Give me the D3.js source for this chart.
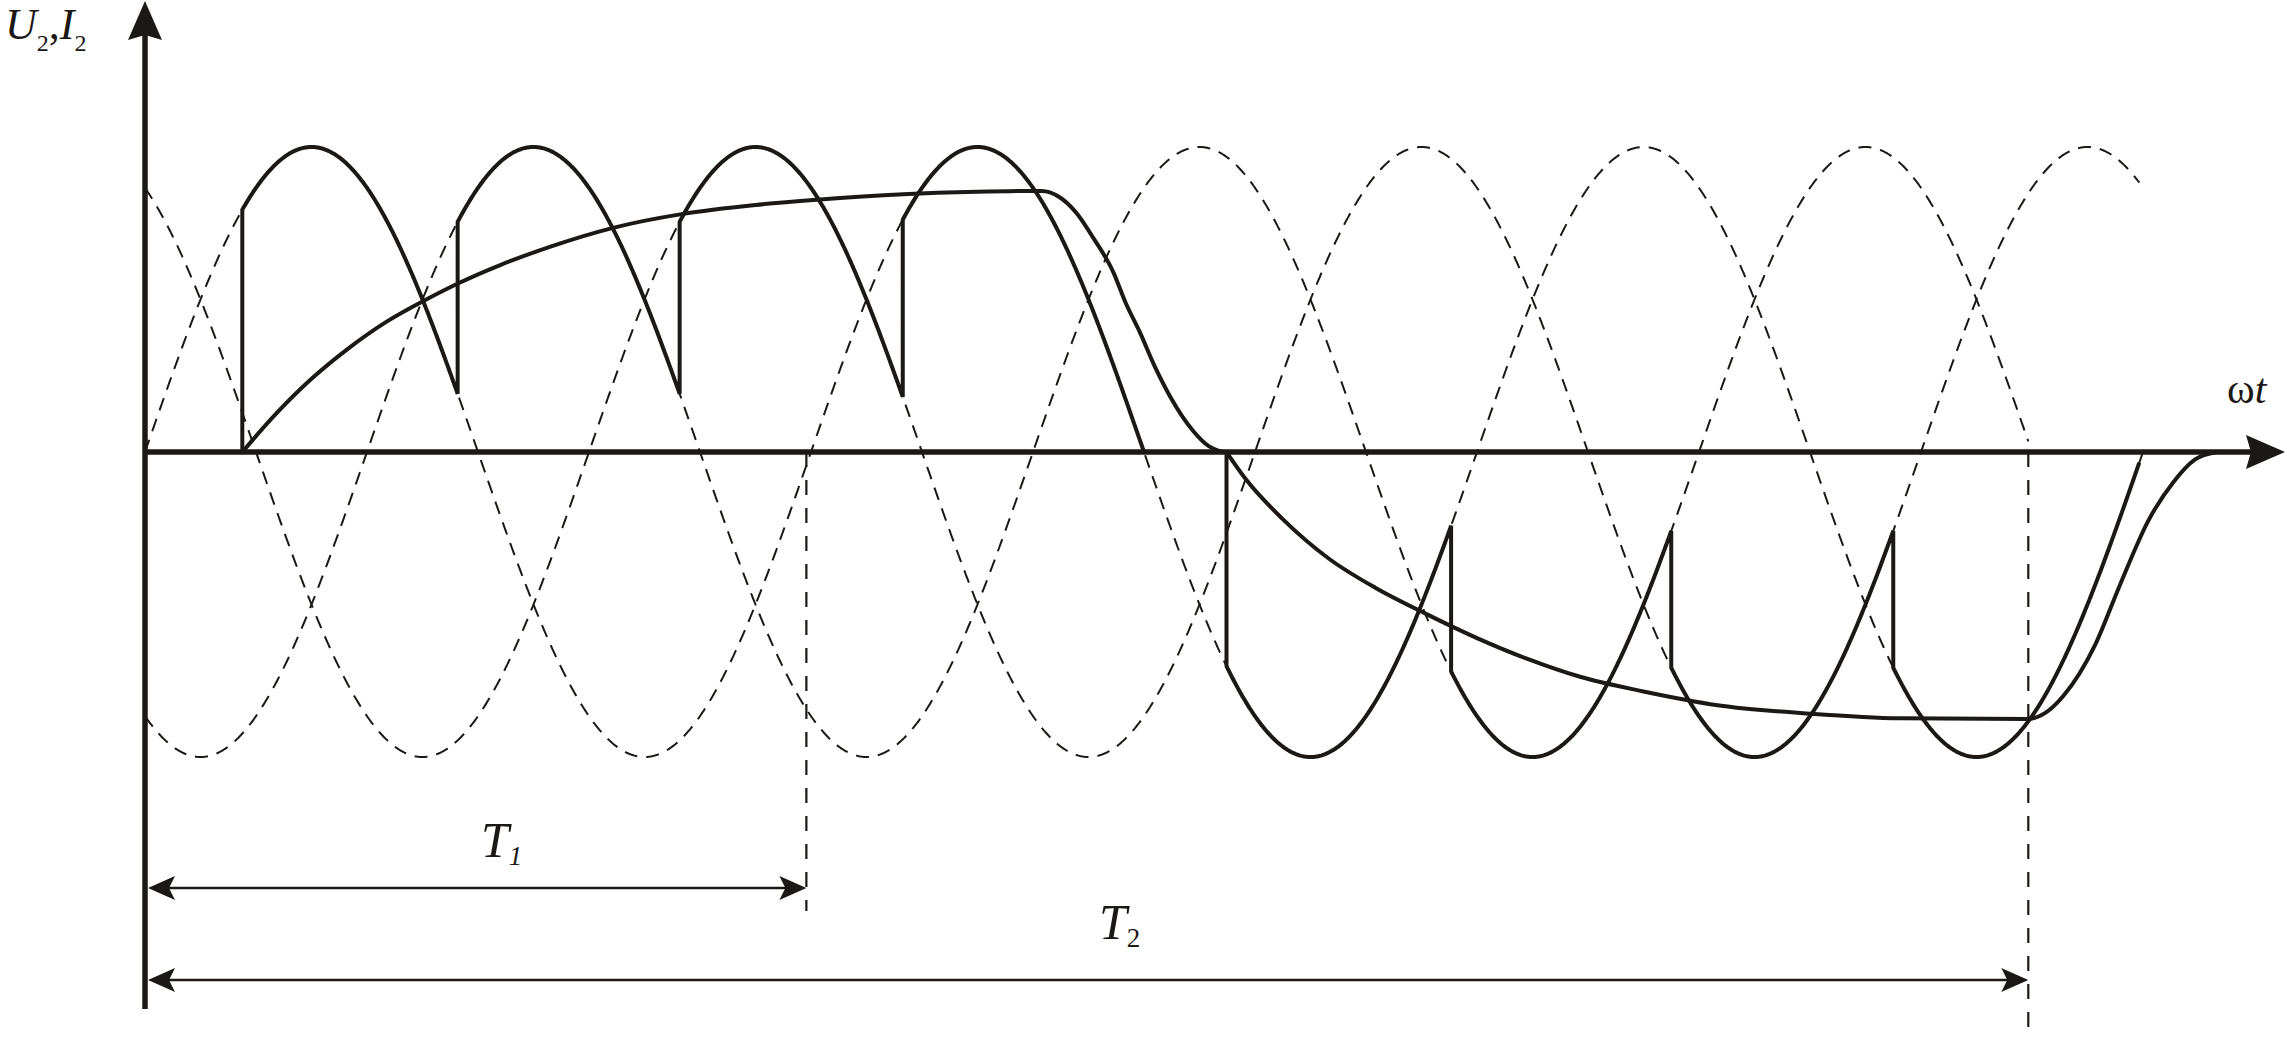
<!DOCTYPE html>
<html><head><meta charset="utf-8">
<script src="https://cdn.jsdelivr.net/npm/d3@7/dist/d3.min.js"></script>
<style>html,body{margin:0;padding:0;background:#fff;overflow:hidden}svg{display:block}
.lbl{font-family:"Liberation Serif","DejaVu Serif","Times New Roman",serif;}</style>
</head><body>
<svg id="chart" width="2287" height="1041"></svg>
<script>
// ---------------- data (ωt in electrical degrees, values relative to phase amplitude) ----------------
const phaseNames = ["a", "b", "c"];
const phaseShift = [0, 120, 240];            // u_k(ωt) = sin(ωt − shift)
const phaseStart = [0, 0, 0];
const phaseEnd   = [1080, 1018, 1078];

// rectifier mode: firing instants and conducting phase
const rectFiring = [52.6, 169, 289, 409.6];
const rectPhase  = [0, 1, 2, 0];
const rectEnd    = 540;
// inverter mode: firing instants and conducting phase
const invFiring  = [584.6, 706, 825, 945];
const invPhase   = [0, 1, 2, 0];
const invEnd     = 1078;

// load current I2
const i2PosTheta = [52.6, 70, 90, 110, 130, 152, 170, 192, 220, 253, 290, 330, 363, 410, 450, 484.7,
                    494, 503.6, 513, 523.4, 530, 537.8, 546, 554.1, 566.7, 575, 581, 584.6];
const i2PosValue = [0, 0.12, 0.24, 0.34, 0.425, 0.50, 0.555, 0.613, 0.675, 0.735, 0.78, 0.81, 0.827, 0.845, 0.853, 0.856,
                    0.837, 0.783, 0.698, 0.59, 0.49, 0.392, 0.278, 0.182, 0.068, 0.019, 0.003, 0];
const i2NegTheta = [584.6, 595.4, 615, 640, 665, 691.9, 720, 748, 775.7, 810, 850, 900, 948.6, 1017.9,
                    1027, 1036.9, 1054, 1067.6, 1082.9, 1096.5, 1108, 1119.8];
const i2NegValue = [0, -0.092, -0.22, -0.35, -0.445, -0.529, -0.61, -0.68, -0.737, -0.785, -0.83, -0.858, -0.873, -0.875,
                    -0.856, -0.80, -0.634, -0.435, -0.225, -0.098, -0.025, 0];

// period markers
const markerTheta = [357.5, 1018];
const markerName  = ["T", "T"];
const markerSub   = ["1", "2"];

// ---------------- layout ----------------
const ink = "#1c1816";
const x = d3.scaleLinear().domain([0, 360]).range([145, 811]);
const y = d3.scaleLinear().domain([-1, 1]).range([757, 147]);
const axisTop = 1, axisBottom = 1009, axisRight = 2285;
const markerArrowY = [888, 980];
const markerLineBottom = [911, 1028];
const markerLabelX = [481, 1099];
const markerLabelY = [857, 939];

const svg = d3.select("#chart");
const line = d3.line().x(d => x(d[0])).y(d => y(d[1]));
const smooth = d3.line().x(d => x(d[0])).y(d => y(d[1])).curve(d3.curveMonotoneX);

const phaseVal = (k, t) => Math.sin((t - phaseShift[k]) * Math.PI / 180);
function sample(k, t0, t1) {
  const pts = [];
  const n = Math.max(2, Math.ceil((t1 - t0) / 0.5));
  for (let i = 0; i <= n; i++) { const t = t0 + (t1 - t0) * i / n; pts.push([t, phaseVal(k, t)]); }
  return pts;
}

// ---- dashed phase voltages ----
const gDash = svg.append("g");
phaseNames.forEach((p, k) => {
  gDash.append("path").attr("d", line(sample(k, phaseStart[k], phaseEnd[k])))
    .attr("fill", "none").attr("stroke", ink).attr("stroke-width", 2)
    .attr("stroke-dasharray", "13,9");
});

// ---- period marker dashed verticals ----
markerTheta.forEach((t, i) => {
  svg.append("line").attr("x1", x(t)).attr("x2", x(t)).attr("y1", y(0)).attr("y2", markerLineBottom[i])
    .attr("stroke", ink).attr("stroke-width", 2.2).attr("stroke-dasharray", "15,13");
});

// ---- solid output voltage U2 ----
function buildVoltage(firing, phases, end, startTheta) {
  const pts = [[startTheta, 0], [firing[0], 0]];
  firing.forEach((t, i) => {
    if (i > 0) pts.push([t, phaseVal(phases[i - 1], t)]);
    const t1 = i < firing.length - 1 ? firing[i + 1] : end;
    sample(phases[i], t, t1).forEach(p => pts.push(p));
  });
  return pts;
}
const u2 = buildVoltage(rectFiring, rectPhase, rectEnd, 0)
  .concat(buildVoltage(invFiring, invPhase, invEnd, rectEnd));
svg.append("path").attr("d", line(u2)).attr("fill", "none").attr("stroke", ink)
  .attr("stroke-width", 4).attr("stroke-linejoin", "miter");

// ---- current I2 ----
const i2Pos = i2PosTheta.map((t, i) => [t, i2PosValue[i]]);
const i2Neg = i2NegTheta.map((t, i) => [t, i2NegValue[i]]);
[i2Pos, i2Neg].forEach(seg => {
  svg.append("path").attr("d", smooth(seg)).attr("fill", "none").attr("stroke", ink).attr("stroke-width", 4);
});

// ---- arrows ----
function arrowHead(tx, ty, ang, L, Wd, N) {
  const c = Math.cos(ang), s = Math.sin(ang);
  const px = -s, py = c;
  const bx = tx - L * c, by = ty - L * s;
  const pts = [[tx, ty], [bx + Wd * px, by + Wd * py], [tx - (L - N) * c, ty - (L - N) * s], [bx - Wd * px, by - Wd * py]];
  return "M" + pts.map(p => p[0].toFixed(1) + "," + p[1].toFixed(1)).join("L") + "Z";
}

// period arrows
markerTheta.forEach((t, i) => {
  const yA = markerArrowY[i];
  svg.append("line").attr("x1", x(0) + 10).attr("x2", x(t) - 10).attr("y1", yA).attr("y2", yA)
    .attr("stroke", ink).attr("stroke-width", 2.6);
  svg.append("path").attr("d", arrowHead(x(0) + 3, yA, Math.PI, 27, 12, 6)).attr("fill", ink);
  svg.append("path").attr("d", arrowHead(x(t), yA, 0, 27, 12, 6)).attr("fill", ink);
  const tx = svg.append("text").attr("class", "lbl").attr("x", markerLabelX[i]).attr("y", markerLabelY[i])
    .attr("font-size", 50).attr("fill", ink);
  tx.append("tspan").attr("font-style", "italic").text(markerName[i]);
  tx.append("tspan").attr("font-size", 27).attr("dy", 8)
    .attr("font-style", markerSub[i] === "1" ? "italic" : "normal").text(markerSub[i]);
});

// axes
svg.append("line").attr("x1", x(0)).attr("x2", axisRight - 30).attr("y1", y(0)).attr("y2", y(0))
  .attr("stroke", ink).attr("stroke-width", 5.5);
svg.append("line").attr("x1", x(0)).attr("x2", x(0)).attr("y1", axisBottom).attr("y2", axisTop + 30)
  .attr("stroke", ink).attr("stroke-width", 5.5);
svg.append("path").attr("d", arrowHead(axisRight, y(0), 0, 39, 17, 5)).attr("fill", ink);
svg.append("path").attr("d", arrowHead(x(0), axisTop, -Math.PI / 2, 39, 17, 5)).attr("fill", ink);

// axis labels
const yl = svg.append("text").attr("class", "lbl").attr("x", 5).attr("y", 39)
  .attr("font-size", 44).attr("fill", ink);
yl.append("tspan").attr("font-style", "italic").text("U");
yl.append("tspan").attr("font-size", 24).attr("dy", 12).text("2");
yl.append("tspan").attr("dy", -12).text(",");
yl.append("tspan").attr("font-style", "italic").text("I");
yl.append("tspan").attr("font-size", 24).attr("dy", 12).text("2");

const xl = svg.append("text").attr("class", "lbl").attr("x", 2227).attr("y", 403)
  .attr("font-size", 42).attr("fill", ink);
xl.append("tspan").text("ω");
xl.append("tspan").attr("font-style", "italic").text("t");
</script>
</body></html>
